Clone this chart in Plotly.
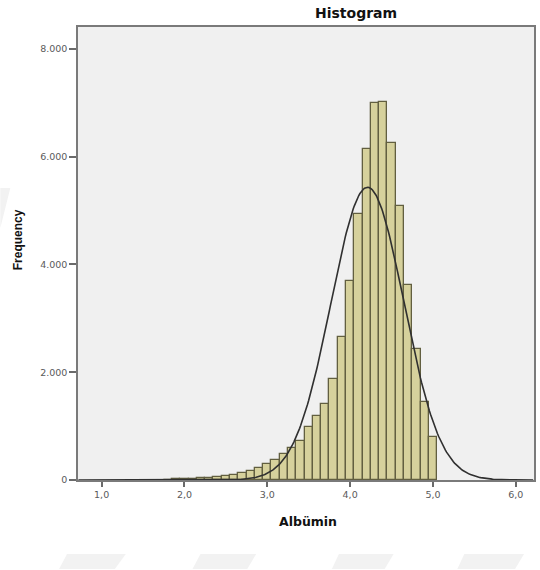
import numpy as np
import plotly.graph_objects as go

# Albümin histogram: bin centres (width 0.1) and frequencies
bin_centers = [1.8, 1.9, 2.0, 2.1, 2.2, 2.3, 2.4, 2.5, 2.6, 2.7, 2.8, 2.9,
               3.0, 3.1, 3.2, 3.3, 3.4, 3.5, 3.6, 3.7, 3.8, 3.9,
               4.0, 4.1, 4.2, 4.3, 4.4, 4.5, 4.6, 4.7, 4.8, 4.9, 5.0]
frequencies = [6, 10, 18, 24, 32, 42, 56, 75, 100, 130, 170, 225,
               295, 365, 490, 600, 730, 990, 1190, 1410, 1880, 2650,
               3700, 4930, 6140, 6990, 7020, 6250, 5080, 3620, 2430, 1440, 800]
bin_width = 0.1

# normal curve parameters
curve_mean = 4.21
curve_sd = 0.44

x_ticks = [1, 2, 3, 4, 5, 6]
y_ticks = [0, 2000, 4000, 6000, 8000]

W, H = 540, 570
L, R, T, B = 78, 4, 27, 90
pw, ph = W - L - R, H - T - B

def px(xp):
    return (xp - L) / pw

def py(yp):
    return (H - B - yp) / ph

n_total = sum(frequencies)
xc = np.linspace(0.72, 6.21, 400)
yc = n_total * bin_width / (curve_sd * np.sqrt(2 * np.pi)) * np.exp(-0.5 * ((xc - curve_mean) / curve_sd) ** 2)

fig = go.Figure()
fig.add_trace(go.Bar(
    x=bin_centers, y=frequencies, width=bin_width,
    marker=dict(color="#d6d19c", line=dict(color="#625f40", width=1.3)),
    showlegend=False, hoverinfo="x+y",
))
fig.add_trace(go.Scatter(
    x=xc, y=yc, mode="lines",
    line=dict(color="#303030", width=1.6),
    showlegend=False, hoverinfo="skip",
))

# light slanted bands along the page edges
bands = [
    [(67, 554), (126, 554), (115, 569), (59, 569)],
    [(201, 554), (257, 554), (248, 569), (193, 569)],
    [(340, 554), (395, 554), (386, 569), (333, 569)],
    [(466, 554), (526, 554), (517, 569), (459, 569)],
    [(0, 188), (10, 188), (0, 228)],
]
shapes = []
for poly in bands:
    path = "M " + " L ".join(f"{px(a):.4f},{py(b):.4f}" for a, b in poly) + " Z"
    shapes.append(dict(type="path", xref="paper", yref="paper", path=path,
                       fillcolor="#f2f2f2", line=dict(width=0), layer="below"))

tick_font = dict(family="DejaVu Sans", size=9.5, color="#5a5a5a")

fig.update_layout(
    width=W, height=H,
    margin=dict(l=L, r=R, t=T, b=B),
    paper_bgcolor="white", plot_bgcolor="#f0f0f0",
    bargap=0, separators=",.",
    shapes=shapes,
    xaxis=dict(range=[0.715, 6.22], tickvals=x_ticks, tickformat=".1f",
               ticks="outside", ticklen=5, tickwidth=1.5, tickcolor="#6a6a6a",
               showline=True, linecolor="#7a7a7a", linewidth=1.5, mirror=True,
               showgrid=False, zeroline=False, tickfont=tick_font),
    yaxis=dict(range=[0, 8404], tickvals=y_ticks, tickformat=",.0f",
               ticks="outside", ticklen=7, tickwidth=1.5, tickcolor="#6a6a6a",
               showline=True, linecolor="#7a7a7a", linewidth=1.5, mirror=True,
               showgrid=False, zeroline=False, tickfont=tick_font),
    annotations=[
        dict(text="<b>Histogram</b>", x=px(357), y=py(13), xref="paper", yref="paper",
             showarrow=False, xanchor="center", yanchor="middle",
             font=dict(family="DejaVu Sans", size=14, color="#111111")),
        dict(text="<b>Albümin</b>", x=px(309), y=py(521), xref="paper", yref="paper",
             showarrow=False, xanchor="center", yanchor="middle",
             font=dict(family="DejaVu Sans", size=12.5, color="#111111")),
        dict(text="<b>Frequency</b>", x=px(18), y=py(240), xref="paper", yref="paper",
             showarrow=False, xanchor="center", yanchor="middle", textangle=-90,
             font=dict(family="Liberation Sans", size=12, color="#111111")),
    ],
)

fig.write_html("out.html")
